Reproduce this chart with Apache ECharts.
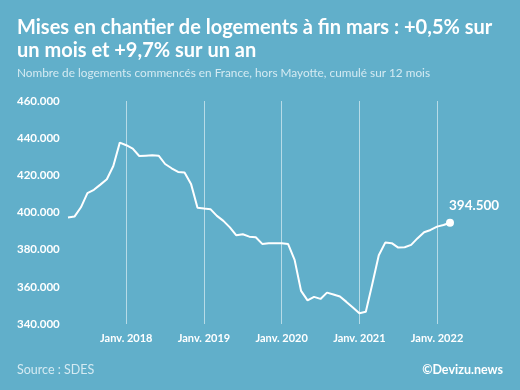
<!DOCTYPE html>
<html>
<head>
<meta charset="utf-8">
<script src="https://cdn.jsdelivr.net/npm/echarts@6/dist/echarts.min.js"></script>
<style>
html, body { margin: 0; padding: 0; background: #61afca; }
#chart { width: 520px; height: 390px; }
</style>
</head>
<body>
<div id="chart"></div>
<script>
// monthly points, avr. 2017 -> mars 2022
var months = [
    '2017-04', '2017-05', '2017-06', '2017-07', '2017-08', '2017-09', '2017-10', '2017-11', '2017-12',
    '2018-01', '2018-02', '2018-03', '2018-04', '2018-05', '2018-06', '2018-07', '2018-08', '2018-09', '2018-10', '2018-11', '2018-12',
    '2019-01', '2019-02', '2019-03', '2019-04', '2019-05', '2019-06', '2019-07', '2019-08', '2019-09', '2019-10', '2019-11', '2019-12',
    '2020-01', '2020-02', '2020-03', '2020-04', '2020-05', '2020-06', '2020-07', '2020-08', '2020-09', '2020-10', '2020-11', '2020-12',
    '2021-01', '2021-02', '2021-03', '2021-04', '2021-05', '2021-06', '2021-07', '2021-08', '2021-09', '2021-10', '2021-11', '2021-12',
    '2022-01', '2022-02', '2022-03'
];
var logements = [
    397300, 397800, 402800, 410400, 412200, 415000, 417900, 425000, 437600,
    436200, 434400, 430400, 430600, 430800, 430600, 426100, 423800, 421800, 421500, 415400, 402500,
    402100, 401800, 398200, 395500, 392000, 387700, 388300, 387000, 386700, 383100, 383500, 383500,
    383500, 383000, 374500, 357800, 352700, 354600, 353500, 356900, 355900, 354800, 351900, 348900,
    345800, 346600, 361500, 377000, 383800, 383500, 381100, 381300, 382600, 386200, 389400, 390600,
    392400, 393300, 394500
];
var yTicks = [340000, 360000, 380000, 400000, 420000, 440000, 460000];

function fmt(v) {
    return String(v).replace(/\B(?=(\d{3})+(?!\d))/g, '.');
}

var lastIdx = logements.length - 1;
var seriesData = [];
for (var i in logements) {
    if (i == lastIdx) {
        seriesData.push({
            value: logements[i],
            label: {
                show: true,
                position: 'top',
                align: 'left',
                offset: [-1, -1],
                formatter: function(p) { return fmt(p.value); },
                color: '#ffffff',
                fontSize: 13.5,
                fontWeight: 'bold',
                fontFamily: 'Lato'
            }
        });
    } else {
        seriesData.push(logements[i]);
    }
}

var chart = echarts.init(document.getElementById('chart'));
chart.setOption({
    backgroundColor: '#61afca',
    animation: false,
    title: [{
        text: 'Mises en chantier de logements à fin mars : +0,5% sur\nun mois et +9,7% sur un an',
        left: 17,
        top: 16,
        padding: 0,
        textStyle: {
            color: '#ffffff',
            fontSize: 20,
            fontWeight: 'bold',
            fontFamily: 'Lato',
            lineHeight: 23
        }
    }, {
        text: 'Nombre de logements commencés en France, hors Mayotte, cumulé sur 12 mois',
        left: 17,
        top: 67,
        padding: 0,
        textStyle: {
            color: '#d4eaf2',
            fontSize: 11.8,
            fontWeight: 'normal',
            fontFamily: 'Lato'
        }
    }, {
        text: 'Source : SDES',
        left: 17,
        top: 363,
        padding: 0,
        textStyle: {
            color: '#d4eaf2',
            fontSize: 12.5,
            fontWeight: 'normal',
            fontFamily: 'Lato'
        }
    }, {
        text: '©Devizu.news',
        right: 17,
        top: 363,
        padding: 0,
        textStyle: {
            color: '#ffffff',
            fontSize: 12.5,
            fontWeight: 'bold',
            fontFamily: 'Lato'
        }
    }],
    grid: {
        left: 68,
        right: 70,
        top: 101,
        bottom: 66
    },
    xAxis: {
        type: 'category',
        boundaryGap: false,
        data: months,
        axisLine: { show: false },
        axisTick: { show: false },
        splitLine: {
            show: true,
            interval: function(idx, val) { return val.slice(5) === '01'; },
            lineStyle: { color: 'rgba(255,255,255,0.55)', width: 1 }
        },
        axisLabel: {
            interval: function(idx, val) { return val.slice(5) === '01'; },
            formatter: function(val) { return 'Janv. ' + val.slice(0, 4); },
            color: '#ffffff',
            fontSize: 11,
            fontWeight: 'bold',
            fontFamily: 'Lato',
            margin: 9
        }
    },
    yAxis: {
        type: 'value',
        min: yTicks[0],
        max: yTicks[yTicks.length - 1],
        interval: 20000,
        axisLine: { show: false },
        axisTick: { show: false },
        splitLine: { show: false },
        axisLabel: {
            align: 'left',
            margin: 51,
            color: '#ffffff',
            fontSize: 11.5,
            fontWeight: 'bold',
            fontFamily: 'Lato',
            formatter: function(v) { return fmt(v); }
        }
    },
    series: [{
        type: 'line',
        data: seriesData,
        showSymbol: true,
        symbol: 'circle',
        symbolSize: function(v, p) { return p.dataIndex === lastIdx ? 8 : 0; },
        lineStyle: { color: '#ffffff', width: 2 },
        itemStyle: { color: '#ffffff' }
    }]
});
</script>
</body>
</html>
